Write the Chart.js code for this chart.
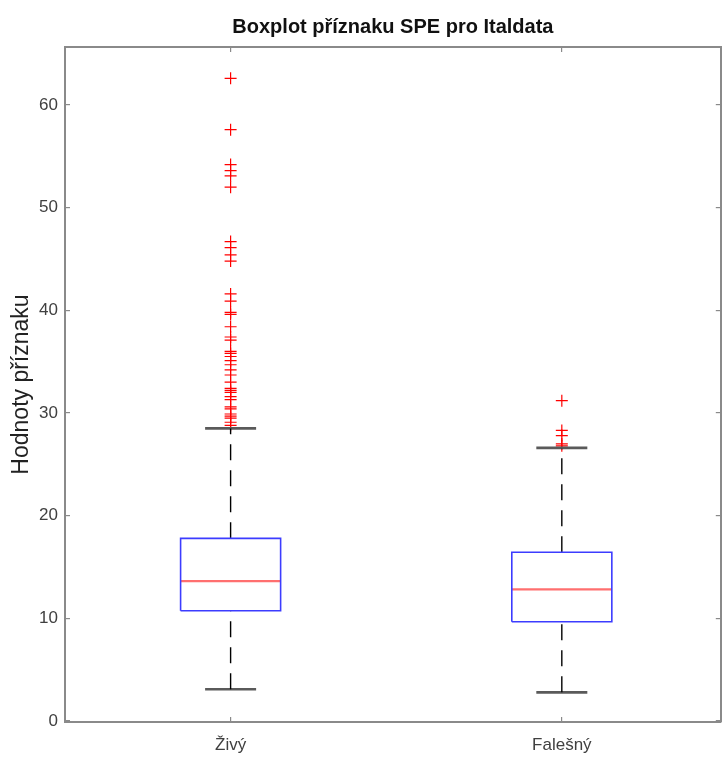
<!DOCTYPE html>
<html>
<head>
<meta charset="utf-8">
<script src="https://cdn.jsdelivr.net/npm/chart.js@4.4.0/dist/chart.umd.min.js"></script>
<style>
    html, body { margin: 0; padding: 0; background: #ffffff; }
    #wrap { width: 728px; height: 758px; }
</style>
</head>
<body>
<div id="wrap"><canvas id="boxChart"></canvas></div>
<script>
// Box statistics
const categories = ['Živý', 'Falešný'];
const lowerWhisker = [3.09, 2.79];
const q1 = [10.74, 9.67];
const medians = [13.63, 12.82];
const q3 = [17.79, 16.43];
const upperWhisker = [28.5, 26.6];

const outliersZivy = [
    62.6, 57.6, 54.2, 53.6, 53.1, 52.0, 46.7, 46.1, 45.4, 44.8,
    41.6, 40.9, 39.8, 39.6, 38.4, 37.4, 37.1, 36.0, 35.8, 35.5,
    35.1, 34.7, 34.2, 33.7, 33.0, 32.4, 32.2, 32.0, 31.6, 31.3,
    30.6, 30.4, 29.9, 29.7, 29.5, 29.1, 28.8
];
const outliersFalesny = [31.2, 28.3, 27.8, 27.0, 26.8];
const outliers = [outliersZivy, outliersFalesny];

const yTicks = [0, 10, 20, 30, 40, 50, 60];

// half widths in x units (categories sit at 1, 2)
const BOX_HALF = 0.151;
const CAP_HALF = 0.077;

const AXIS_GRAY = '#8a8a8a';
const LABEL_GRAY = '#404040';
const FONT = "'Liberation Sans', Arial, sans-serif";

function segment(points, color, width, dash) {
    return {
        type: 'line',
        data: points,
        showLine: true,
        borderColor: color,
        borderWidth: width,
        borderDash: dash || [],
        pointRadius: 0,
        fill: false,
        tension: 0
    };
}

function buildDatasets() {
    const sets = [];
    categories.forEach((name, i) => {
        const x = i + 1;
        // outliers
        sets.push({
            type: 'scatter',
            data: outliers[i].map(v => ({ x, y: v })),
            pointStyle: 'cross',
            pointRadius: 6,
            borderColor: '#ff0000',
            borderWidth: 1.2,
            order: 2
        });
        // box
        sets.push(segment([
            { x: x - BOX_HALF, y: q1[i] },
            { x: x + BOX_HALF, y: q1[i] },
            { x: x + BOX_HALF, y: q3[i] },
            { x: x - BOX_HALF, y: q3[i] },
            { x: x - BOX_HALF, y: q1[i] }
        ], '#3c3cff', 1.6));
        // median
        sets.push(segment([
            { x: x - BOX_HALF, y: medians[i] },
            { x: x + BOX_HALF, y: medians[i] }
        ], '#ff6f6f', 2.2));
        // whiskers (dashed)
        sets.push(segment([
            { x, y: q3[i] },
            { x, y: upperWhisker[i] }
        ], '#000000', 1.4, [16, 10]));
        sets.push(segment([
            { x, y: lowerWhisker[i] },
            { x, y: q1[i] }
        ], '#000000', 1.4, [16, 10]));
        // caps
        sets.push(segment([
            { x: x - CAP_HALF, y: upperWhisker[i] },
            { x: x + CAP_HALF, y: upperWhisker[i] }
        ], '#5a5a5a', 2.6));
        sets.push(segment([
            { x: x - CAP_HALF, y: lowerWhisker[i] },
            { x: x + CAP_HALF, y: lowerWhisker[i] }
        ], '#5a5a5a', 2.6));
    });
    return sets;
}

function categoryTicks(scale) {
    scale.ticks = categories.map((c, i) => ({ value: i + 1 }));
}

function valueTicks(scale) {
    scale.ticks = yTicks.map(v => ({ value: v }));
}

const frameGrid = {
    drawOnChartArea: false,
    drawTicks: true,
    tickLength: -5,
    tickColor: AXIS_GRAY,
    lineWidth: 1.2
};
const frameBorder = { display: true, color: AXIS_GRAY, width: 2 };

new Chart(document.getElementById('boxChart').getContext('2d'), {
    type: 'scatter',
    data: { datasets: buildDatasets() },
    options: {
        responsive: true,
        maintainAspectRatio: false,
        animation: false,
        layout: { padding: 0 },
        plugins: {
            legend: { display: false },
            tooltip: { enabled: false },
            title: {
                display: true,
                fullSize: false,
                text: 'Boxplot příznaku SPE pro Italdata',
                color: '#111111',
                font: { family: FONT, size: 20, weight: 'bold', lineHeight: 1.2 },
                padding: { top: 15, bottom: 8 }
            }
        },
        scales: {
            x: {
                type: 'linear',
                position: 'bottom',
                min: 0.5,
                max: 2.48,
                afterBuildTicks: categoryTicks,
                afterFit: s => { s.height = 36; },
                grid: frameGrid,
                border: frameBorder,
                ticks: {
                    color: LABEL_GRAY,
                    font: { family: FONT, size: 17 },
                    padding: 18,
                    maxRotation: 0,
                    autoSkip: false,
                    callback: v => categories[v - 1]
                }
            },
            xTop: {
                type: 'linear',
                position: 'top',
                min: 0.5,
                max: 2.48,
                afterBuildTicks: categoryTicks,
                afterFit: s => { s.height = 0; },
                grid: frameGrid,
                border: frameBorder,
                ticks: { display: false }
            },
            y: {
                type: 'linear',
                position: 'left',
                min: -0.1,
                max: 65.65,
                afterBuildTicks: valueTicks,
                afterFit: s => { s.width = 65; },
                grid: frameGrid,
                border: frameBorder,
                title: {
                    display: true,
                    text: 'Hodnoty příznaku',
                    color: '#222222',
                    font: { family: FONT, size: 23 },
                    padding: { top: 8, bottom: 0 }
                },
                ticks: {
                    color: LABEL_GRAY,
                    font: { family: FONT, size: 17 },
                    padding: 12,
                    autoSkip: false
                }
            },
            yRight: {
                type: 'linear',
                position: 'right',
                min: -0.1,
                max: 65.65,
                afterBuildTicks: valueTicks,
                afterFit: s => { s.width = 5; },
                grid: frameGrid,
                border: frameBorder,
                ticks: { display: false }
            }
        }
    }
});
</script>
</body>
</html>
